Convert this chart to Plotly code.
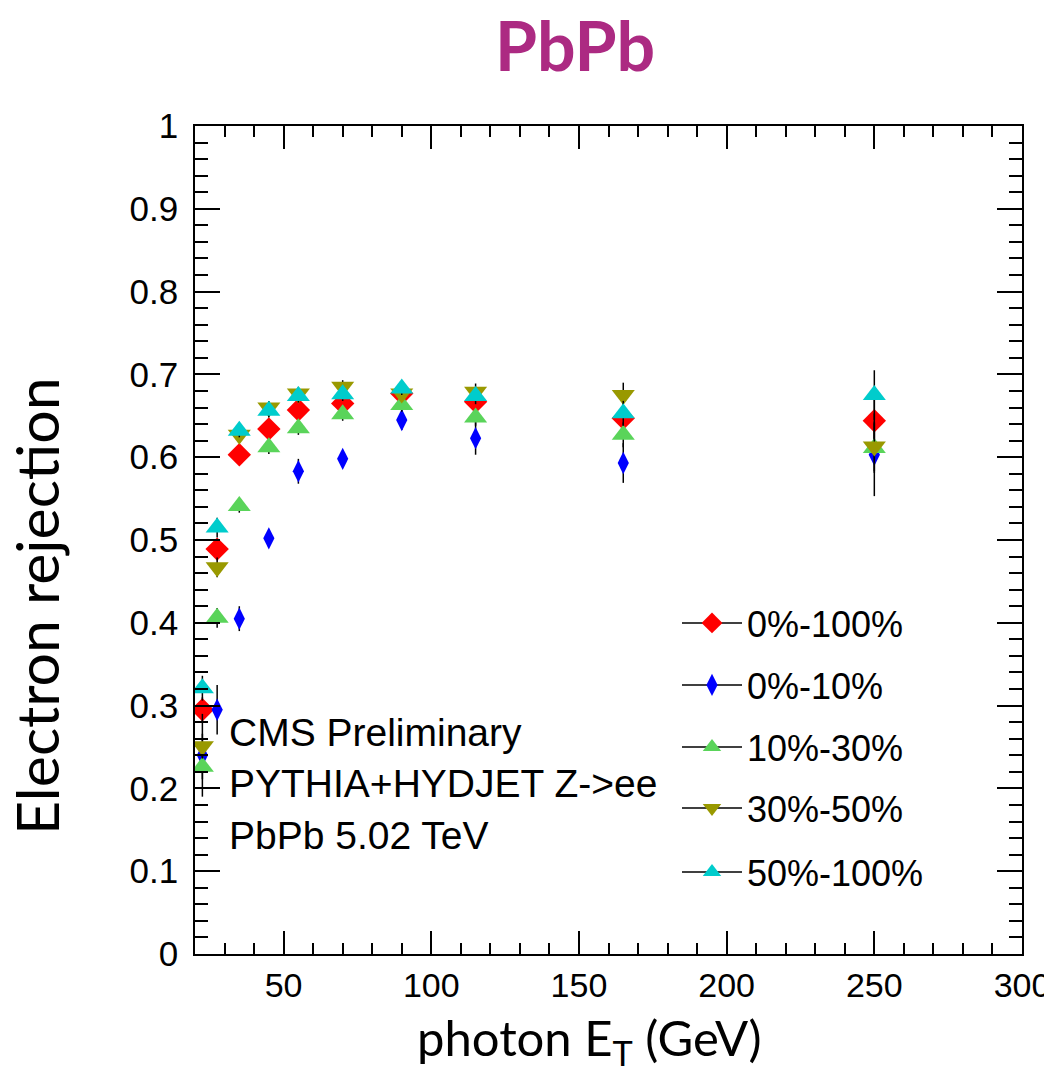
import plotly.graph_objects as go

# photon ET bin centres (GeV)
pt = [22.5, 27.5, 35, 45, 55, 70, 90, 115, 165, 250]

# electron rejection per centrality class
rej_0_100 = [0.295, 0.489, 0.603, 0.634, 0.657, 0.665, 0.677, 0.667, 0.647, 0.644]
rej_0_10 = [0.240, 0.295, 0.405, 0.502, 0.583, 0.598, 0.645, 0.623, 0.593, 0.603]
rej_10_30 = [0.226, 0.406, 0.541, 0.612, 0.635, 0.652, 0.663, 0.648, 0.627, 0.611]
rej_30_50 = [0.251, 0.467, 0.627, 0.660, 0.677, 0.685, 0.677, 0.679, 0.675, 0.613]
rej_50_100 = [0.321, 0.515, 0.632, 0.656, 0.674, 0.676, 0.683, 0.674, 0.653, 0.675]

# statistical errors
err_0_100 = [0.015, 0.012, 0.008, 0.008, 0.008, 0.008, 0.008, 0.010, 0.015, 0.030]
err_0_10 = [0.050, 0.030, 0.015, 0.010, 0.015, 0.010, 0.012, 0.020, 0.024, 0.050]
err_10_30 = [0.015, 0.012, 0.008, 0.008, 0.008, 0.008, 0.008, 0.010, 0.015, 0.030]
err_30_50 = [0.015, 0.012, 0.008, 0.008, 0.008, 0.008, 0.008, 0.010, 0.015, 0.030]
err_50_100 = [0.015, 0.012, 0.008, 0.008, 0.008, 0.008, 0.008, 0.010, 0.015, 0.030]

series = [
    ("0%-100%", rej_0_100, err_0_100, "#FF0000", "diamond", 18),
    ("0%-10%", rej_0_10, err_0_10, "#0000FF", "diamond-tall", 16),
    ("10%-30%", rej_10_30, err_10_30, "#5AD45A", "triangle-up", 20),
    ("30%-50%", rej_30_50, err_30_50, "#999900", "triangle-down", 20),
    ("50%-100%", rej_50_100, err_50_100, "#00CCCC", "triangle-up", 20),
]

# legend entry centres (pixels from top of the reference image)
leg_rows = [623, 685, 747, 808, 872]

# page body margin of the browser (8px) is compensated here
OFF = 8
W, H = 1052 - OFF, 1089 - 2 * OFF
X0, X1, Y0, Y1 = 195, 1022, 126, 954

fig = go.Figure()
for name, y, e, col, sym, sz in series:
    fig.add_trace(go.Scatter(
        x=pt, y=y, mode="markers", name=name, showlegend=False,
        marker=dict(color=col, symbol=sym, size=sz, line=dict(width=0)),
        error_y=dict(type="data", array=e, color="black", thickness=1.5, width=0),
    ))

for i, (name, y, e, col, sym, sz) in enumerate(series):
    lg = "legend" if i == 0 else f"legend{i + 1}"
    fig.add_trace(go.Scatter(
        x=[None], y=[None], mode="lines+markers", name=name, legend=lg,
        line=dict(color="black", width=1.5),
        marker=dict(color=col, symbol=sym, size=sz),
    ))


def px_x(p):
    return (p - X0) / (X1 - X0)


def px_y(p):
    return (Y1 - p) / (Y1 - Y0)


helv = "Liberation Sans, Arial, sans-serif"

layout_legends = {}
for i, row in enumerate(leg_rows):
    key = "legend" if i == 0 else f"legend{i + 1}"
    layout_legends[key] = dict(
        x=px_x(677), y=px_y(row),
        xanchor="left", yanchor="middle",
        bgcolor="rgba(0,0,0,0)", borderwidth=0,
        font=dict(family=helv, size=36, color="black"),
        itemsizing="trace", itemwidth=60,
    )

fig.update_layout(
    width=W, height=H,
    margin=dict(l=X0 - OFF, r=W + OFF - X1, t=Y0 - OFF, b=H + OFF - Y1),
    paper_bgcolor="white", plot_bgcolor="white",
    **layout_legends,
)

fig.update_xaxes(
    range=[20, 300], tick0=0, dtick=50,
    ticks="inside", ticklen=23, tickwidth=1.5, tickcolor="black",
    minor=dict(ticks="inside", ticklen=11, dtick=10, tick0=0, tickcolor="black", tickwidth=1.5),
    showline=True, linecolor="black", linewidth=1.5, mirror="allticks",
    showgrid=False, zeroline=False, tickfont=dict(family=helv, size=34, color="black"),
    ticklabelstandoff=0, ticklabeloverflow="allow", automargin=False,
)
fig.update_yaxes(
    range=[0, 1], tick0=0, dtick=0.1,
    ticks="inside", ticklen=25, tickwidth=1.5, tickcolor="black",
    minor=dict(ticks="inside", ticklen=13, dtick=0.02, tick0=0, tickcolor="black", tickwidth=1.5),
    showline=True, linecolor="black", linewidth=1.5, mirror="allticks",
    showgrid=False, zeroline=False, tickfont=dict(family=helv, size=35, color="black"),
    ticklabelstandoff=8, automargin=False,
)

title_font = "Lato, Carlito, Open Sans, sans-serif"
fig.add_annotation(text="<b>PbPb</b>", x=px_x(575), y=px_y(44), xref="paper", yref="paper",
                   xanchor="center", yanchor="middle", showarrow=False,
                   font=dict(family=title_font, size=68, color="#AC2A82"))
fig.add_annotation(text="Electron rejection", x=px_x(36), y=px_y(606), xref="paper", yref="paper",
                   xanchor="center", yanchor="middle", textangle=-90, showarrow=False,
                   font=dict(family=title_font, size=59, color="black"))
fig.add_annotation(text="photon E<sub>T</sub> (GeV)", x=px_x(589), y=px_y(1040), xref="paper", yref="paper",
                   xanchor="center", yanchor="middle", showarrow=False,
                   font=dict(family=title_font, size=49, color="black"))

for txt, row in [("CMS Preliminary", 733), ("PYTHIA+HYDJET Z->ee", 783), ("PbPb 5.02 TeV", 835)]:
    fig.add_annotation(text=txt, x=px_x(227), y=px_y(row), xref="paper", yref="paper",
                       xanchor="left", yanchor="middle", showarrow=False,
                       font=dict(family=helv, size=39, color="black"))

fig.write_html("out.html")
